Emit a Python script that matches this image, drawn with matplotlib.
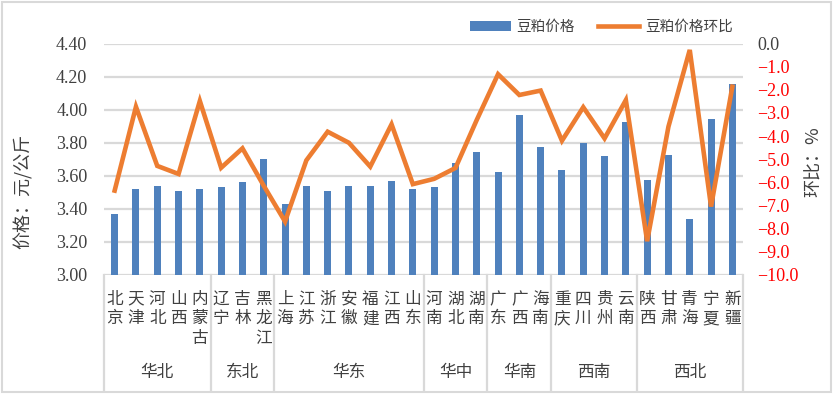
import numpy as np
import matplotlib
matplotlib.use('Agg')
import matplotlib.pyplot as plt
from matplotlib.patches import Rectangle
from matplotlib.ticker import FuncFormatter

plt.rcParams['font.family'] = ['Noto Sans CJK SC', 'DejaVu Sans']

# provinces, grouped by region
provinces = ['北京', '天津', '河北', '山西', '内蒙古',
             '辽宁', '吉林', '黑龙江',
             '上海', '江苏', '浙江', '安徽', '福建', '江西', '山东',
             '河南', '湖北', '湖南',
             '广东', '广西', '海南',
             '重庆', '四川', '贵州', '云南',
             '陕西', '甘肃', '青海', '宁夏', '新疆']
regions = ['华北', '东北', '华东', '华中', '华南', '西南', '西北']
region_sizes = [5, 3, 7, 3, 3, 4, 5]

# price, yuan/kg
price = [3.37, 3.52, 3.54, 3.51, 3.52,
         3.53, 3.56, 3.70,
         3.43, 3.54, 3.51, 3.54, 3.54, 3.57, 3.52,
         3.53, 3.68, 3.745,
         3.62, 3.97, 3.775,
         3.635, 3.80, 3.72, 3.925,
         3.575, 3.725, 3.34, 3.945, 4.155]
# month-on-month change, %
mom = [-6.36, -2.73, -5.29, -5.64, -2.48,
       -5.37, -4.53, -6.15,
       -7.70, -5.05, -3.81, -4.29, -5.32, -3.49, -6.08,
       -5.85, -5.38, -3.30,
       -1.32, -2.22, -2.03,
       -4.20, -2.75, -4.10, -2.44,
       -8.55, -3.59, -0.27, -7.05, -1.86]

blue = '#4F81BD'
orange = '#ED7D31'
grid_c = '#D9D9D9'
text_c = '#404040'
num_font = 'Liberation Serif'

fig = plt.figure(figsize=(8.33, 3.94), dpi=100)
ax = fig.add_axes([104 / 833, 1 - 274.7 / 394, 639 / 833, 231 / 394])
ax2 = ax.twinx()

x = np.arange(len(provinces))
bars = ax.bar(x, price, width=0.33, color=blue, zorder=2, label='豆粕价格')
line, = ax2.plot(x, mom, color=orange, lw=3.3, solid_joinstyle='miter',
                 zorder=3, label='豆粕价格环比')

ax.set_xlim(-0.5, len(provinces) - 0.5)
ax.set_ylim(3.0, 4.4)
ax.set_yticks(np.arange(3.0, 4.41, 0.2))
ax.yaxis.set_major_formatter(FuncFormatter(lambda v, p: f'{v:.2f}'))
ax.yaxis.grid(True, color=grid_c, lw=1.6, zorder=0)
ax.set_axisbelow(True)
ax.set_xticks([])
ax.tick_params(axis='y', length=0, pad=12, labelsize=13, colors=text_c)
for lab in ax.get_yticklabels():
    lab.set_fontfamily(num_font)

ax2.set_ylim(-10, 0)
ax2.set_yticks(np.arange(-10, 0.1, 1))
ax2.yaxis.set_major_formatter(
    FuncFormatter(lambda v, p: f'{abs(v):.1f}' if abs(v) < 1e-9 else f'{v:.1f}'.replace('-', '−')))
ax2.tick_params(axis='y', length=0, pad=10, labelsize=13)
for lab, v in zip(ax2.get_yticklabels(), ax2.get_yticks()):
    lab.set_fontfamily(num_font)
    lab.set_color(text_c if abs(v) < 1e-9 else '#FF0000')

for a in (ax, ax2):
    for s in a.spines.values():
        s.set_visible(False)

# multi-level category axis
trans = ax.get_xaxis_transform()
for i, name in enumerate(provinces):
    ax.text(i, -0.07, '\n'.join(name), transform=trans, ha='center', va='top',
            fontsize=12, color=text_c, linespacing=1.18)
bounds = np.concatenate([[0], np.cumsum(region_sizes)])
for b in bounds:
    ax.plot([b - 0.5, b - 0.5], [0, -0.505], transform=trans, color=grid_c,
            lw=1.6, clip_on=False)
for r, lo, hi in zip(regions, bounds[:-1], bounds[1:]):
    ax.text((lo + hi - 1) / 2, -0.425, r, transform=trans, ha='center',
            va='center', fontsize=12, color=text_c)

# axis titles
fig.text(0.028, 0.515, '价格：元/公斤', rotation=90, ha='center', va='center',
         fontsize=13, color=text_c)
fig.text(0.977, 0.59, '环比：%', rotation=90, ha='center', va='center',
         fontsize=13, color=text_c)

fig.legend(handles=[bars, line], loc='center', bbox_to_anchor=(0.722, 0.932),
           ncol=2, frameon=False, fontsize=10.5, handlelength=2.8,
           columnspacing=1.6, handletextpad=0.4, labelcolor=text_c)

fig.patches.append(Rectangle((0.002, 0.004), 0.996, 0.992, transform=fig.transFigure,
                             fill=False, edgecolor=grid_c, lw=1.5))

fig.savefig('out.png', dpi=100)
